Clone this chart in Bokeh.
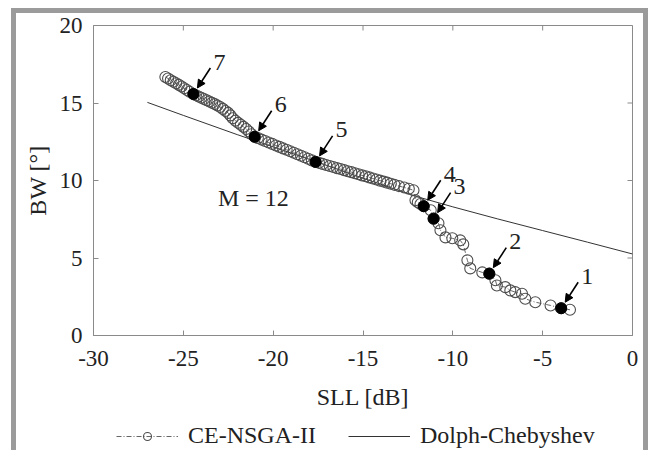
from bokeh.plotting import figure
from bokeh.layouts import column
from bokeh.models import (Range1d, Legend, LegendItem, Arrow, NormalHead,
                          ColumnDataSource, Label)
from bokeh.embed import file_html
from bokeh.resources import INLINE
from bokeh.core.properties import value

# ---------------- data ----------------
sll = [-26.00, -25.85, -25.70, -25.55, -25.40, -25.25, -25.10, -24.95, -24.80, -24.65,
       -24.44, -24.30, -24.15, -24.00, -23.85, -23.70, -23.55, -23.40, -23.25, -23.10,
       -22.95, -22.80, -22.65, -22.50, -22.38, -22.25, -22.10, -21.95, -21.80, -21.65,
       -21.50, -21.35, -21.20, -21.03, -20.85, -20.65, -20.45, -20.25, -20.05, -19.85,
       -19.65, -19.45, -19.25, -19.05, -18.85, -18.65, -18.45, -18.25, -18.05, -17.85,
       -17.64, -17.45, -17.25, -17.05, -16.85, -16.65, -16.45, -16.25, -16.05, -15.85,
       -15.65, -15.45, -15.25, -15.05, -14.85, -14.65, -14.45, -14.25, -14.05, -13.85,
       -13.65, -13.45, -13.25, -13.00, -12.70, -12.45, -12.19, -12.08, -11.95, -11.80,
       -11.62, -11.23, -11.07, -10.80, -10.69, -10.41, -10.03, -9.59, -9.42, -9.19,
       -9.03, -8.36, -7.97, -7.63, -7.55, -7.08, -6.80, -6.53, -6.15, -5.97,
       -5.41, -4.56, -3.97, -3.48]
bw = [16.68, 16.58, 16.47, 16.37, 16.27, 16.17, 16.06, 15.95, 15.84, 15.73,
      15.58, 15.50, 15.42, 15.34, 15.26, 15.18, 15.10, 15.01, 14.93, 14.84,
      14.74, 14.62, 14.48, 14.36, 14.20, 14.02, 13.86, 13.72, 13.60, 13.46,
      13.32, 13.16, 12.98, 12.82, 12.74, 12.64, 12.55, 12.45, 12.36, 12.26,
      12.17, 12.07, 11.98, 11.89, 11.79, 11.69, 11.60, 11.50, 11.40, 11.30,
      11.20, 11.14, 11.07, 11.00, 10.94, 10.87, 10.80, 10.74, 10.67, 10.60,
      10.54, 10.47, 10.40, 10.33, 10.27, 10.20, 10.13, 10.06, 9.99, 9.93,
      9.86, 9.79, 9.72, 9.64, 9.55, 9.47, 9.37, 8.73, 8.60, 8.48,
      8.34, 8.08, 7.54, 7.24, 6.79, 6.33, 6.27, 6.14, 5.88, 4.85,
      4.33, 4.07, 3.99, 3.56, 3.23, 3.12, 2.91, 2.80, 2.69, 2.37,
      2.15, 1.94, 1.76, 1.66]

marked_sll = [-3.97, -7.97, -11.07, -11.62, -17.64, -21.03, -24.44]
marked_bw = [1.76, 3.99, 7.54, 8.34, 11.20, 12.82, 15.58]
marked_labels = ["1", "2", "3", "4", "5", "6", "7"]

dc_sll = [-27.0, -25.0, -22.0, -20.0, -17.5, -15.0, -12.0, -10.0, -7.5, -5.0, -2.5, 0.0]
dc_bw = [15.04, 14.20, 12.96, 12.17, 11.17, 10.15, 8.96, 8.30, 7.52, 6.77, 6.02, 5.26]

x_ticks = [-30, -25, -20, -15, -10, -5, 0]
y_ticks = [0, 5, 10, 15, 20]

series_names = ["CE-NSGA-II", "Dolph-Chebyshev"]

# ---------------- styles ----------------
W = 648
H_MAIN, H_LEG = 420, 30
BL, BR, BT = 93, 16, 25
BB = H_MAIN - BT - 310
FONT = "Liberation Serif"
TXT = "#222222"
AX = "#8a8a8a"
GRAY = "#9b9b9b"
CE_LINE = dict(line_color="#555555", line_width=0.9, line_dash="5 2 1 2")
CE_MARK = dict(marker="circle", size=11, fill_color=None, line_color="#4d4d4d", line_width=1.1)
DC_LINE = dict(line_color="#333333", line_width=1)

# ---------------- main figure ----------------
p = figure(width=W, height=H_MAIN, x_range=Range1d(-30, 0), y_range=Range1d(0, 20),
           output_backend="svg", toolbar_location=None,
           min_border_left=BL, min_border_right=BR, min_border_top=BT, min_border_bottom=BB,
           x_axis_label="SLL [dB]", y_axis_label="BW [°]")
p.grid.visible = False
p.outline_line_color = AX
p.background_fill_color = "white"
p.border_fill_color = None
p.styles = {"background-color": "white",
            "box-shadow": f"inset 11px 8px 0 0 white, inset 16px 13px 0 0 {GRAY}, inset -5px 0 0 0 {GRAY}"}

for ax in (p.xaxis[0], p.yaxis[0]):
    ax.axis_line_color = AX
    ax.major_tick_line_color = AX
    ax.major_tick_in = 5
    ax.major_tick_out = 0
    ax.minor_tick_line_color = None
    ax.major_label_text_font = FONT
    ax.major_label_text_color = TXT
    ax.major_label_text_font_size = "23px"
    ax.axis_label_text_font = FONT
    ax.axis_label_text_font_style = "normal"
    ax.axis_label_text_font_size = "24px"
    ax.axis_label_text_color = TXT

p.xaxis.ticker = x_ticks
p.yaxis.ticker = y_ticks
p.xaxis.major_label_overrides = {t: str(t) for t in x_ticks}
p.yaxis.major_label_overrides = {t: str(t) for t in y_ticks}
p.xaxis.major_label_standoff = 15
p.xaxis.axis_label_standoff = 15
p.yaxis.major_label_standoff = 11
p.yaxis.axis_label_standoff = 6

# tick marks on the top and right edges of the box
fw = W - BL - BR
fh = H_MAIN - BT - BB
sx = 30.0 / fw
sy = 20.0 / fh
p.segment(x0=x_ticks, y0=[20] * len(x_ticks), x1=x_ticks, y1=[20 - 5 * sy] * len(x_ticks),
          line_color=AX, line_width=1)
p.segment(x0=[0] * len(y_ticks), y0=y_ticks, x1=[0 - 5 * sx] * len(y_ticks), y1=y_ticks,
          line_color=AX, line_width=1)

# Dolph-Chebyshev
p.line(dc_sll, dc_bw, **DC_LINE)

# CE-NSGA-II
src = ColumnDataSource(dict(x=sll, y=bw))
p.line("x", "y", source=src, **CE_LINE)
p.scatter("x", "y", source=src, **CE_MARK)

# marked solutions
p.scatter(marked_sll, marked_bw, marker="circle", size=11, fill_color="black", line_color="black")

arr = ColumnDataSource(dict(
    xs=[x + 17 * sx for x in marked_sll], ys=[y + 26 * sy for y in marked_bw],
    xe=[x + 4 * sx for x in marked_sll], ye=[y + 6 * sy for y in marked_bw]))
p.add_layout(Arrow(x_start="xs", y_start="ys", x_end="xe", y_end="ye", source=arr,
                   line_color="black", line_width=1.6,
                   end=NormalHead(size=8, fill_color="black", line_color="black")))

p.text(x=marked_sll, y=marked_bw, text=marked_labels, x_offset=26, y_offset=-32,
       text_align="center", text_baseline="middle", text_font=value(FONT),
       text_font_size="24px", text_color=TXT)

p.add_layout(Label(x=-21.1, y=8.9, text="M = 12", text_align="center", text_baseline="middle",
                   text_font=FONT, text_font_size="24px", text_color=TXT))

# ---------------- legend strip ----------------
q = figure(width=W, height=H_LEG, x_range=Range1d(0, 1), y_range=Range1d(0, 1),
           output_backend="svg", toolbar_location=None,
           x_axis_location=None, y_axis_location=None, min_border=0)
q.grid.visible = False
q.outline_line_color = None
q.background_fill_color = None
q.border_fill_color = None
q.styles = {"background-color": "white",
            "box-shadow": f"inset 11px 0 0 0 white, inset 16px 0 0 0 {GRAY}, inset -5px 0 0 0 {GRAY}"}
# legend proxies (kept outside the visible range of the strip)
l_ce = q.line([-1, -2], [-1, -2], **CE_LINE)
m_ce = q.scatter([-1], [-1], **CE_MARK)
l_dc = q.line([-1, -2], [-1, -2], **DC_LINE)
legend = Legend(items=[LegendItem(label=series_names[0], renderers=[l_ce, m_ce]),
                       LegendItem(label=series_names[1], renderers=[l_dc])],
                orientation="horizontal", location=(23, 1),
                label_text_font=FONT, label_text_font_size="24px", label_text_color=TXT,
                glyph_width=62, glyph_height=20, label_standoff=10, spacing=32,
                padding=0, margin=0, border_line_color=None, background_fill_alpha=0)
q.add_layout(legend, "center")

layout = column(p, q, spacing=0)
open("out.html", "w").write(file_html(layout, INLINE))
